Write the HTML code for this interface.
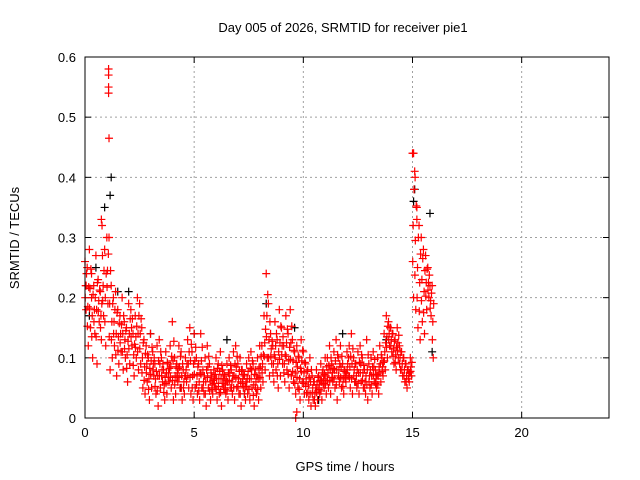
<!DOCTYPE html>
<html><head><meta charset="utf-8"><style>
html,body{margin:0;padding:0;background:#fff}
svg{display:block;font-family:"Liberation Sans",sans-serif}
</style></head><body>
<svg id="chart" width="640" height="480" viewBox="0 0 640 480">
<rect width="640" height="480" fill="#fff"/>
<text x="343" y="32" text-anchor="middle" font-size="13">Day 005 of 2026, SRMTID for receiver pie1</text>
<text x="345" y="471" text-anchor="middle" font-size="13">GPS time / hours</text>
<text transform="translate(19,238) rotate(-90)" text-anchor="middle" font-size="13">SRMTID / TECUs</text>
<g id="grid"></g>
<g id="ticks"></g>
<g id="black"></g>
<g id="red"></g>
<rect x="85" y="57" width="524" height="361" fill="none" stroke="#000" stroke-width="1"/>
</svg>
<script>
const xTicks=[0,5,10,15,20];
const yTicks=[0,0.1,0.2,0.3,0.4,0.5,0.6];
const yTickLabels=["0","0.1","0.2","0.3","0.4","0.5","0.6"];
const redT=[0.0,0.1,0.2,0.3,0.4,0.5,0.6,0.7,0.8,0.9,1.0,
1.1,1.2,1.3,1.4,1.5,1.6,1.7,1.8,1.9,2.0,2.1,2.2,2.3,2.4,2.5,
2.6,2.7,2.8,2.9,3.0,3.1,3.2,3.3,3.4,3.5,3.6,3.7,3.8,3.9,4.0,4.1,4.2,4.3,4.4,4.5,4.6,4.7,4.8,4.9,5.0,
5.1,5.2,5.3,5.4,5.5,5.6,5.7,5.8,5.9,6.0,6.1,6.2,6.3,6.4,6.5,6.6,6.7,6.8,6.9,7.0,7.1,7.2,7.3,7.4,7.5,7.6,7.7,7.8,7.9,8.0,
8.1,8.2,8.3,8.4,8.5,8.6,8.7,8.8,8.9,9.0,9.1,9.2,9.3,9.4,9.5,9.6,9.7,9.8,9.9,10.0,
10.1,10.2,10.3,10.4,10.5,10.6,10.7,10.8,10.9,11.0,
11.1,11.2,11.3,11.4,11.5,11.6,11.7,11.8,11.9,12.0,12.1,12.2,12.3,12.4,12.5,12.6,12.7,12.8,12.9,13.0,13.1,13.2,13.3,13.4,13.5,
13.6,13.7,13.8,13.9,14.0,14.1,14.2,14.3,14.4,14.5,14.6,14.7,14.8,14.9,
15.0,15.1,15.2,15.3,15.4,15.5,15.6,15.7,15.8,15.9];
const redHi=[.26,.25,.28,.24,.22,.27,.23,.21,.27,.28,.30,
.30,.22,.20,.21,.18,.17,.20,.16,.15,.19,.18,.14,.17,.20,.19,
.15,.13,.12,.10,.14,.11,.09,.12,.13,.10,.08,.11,.09,.12,.16,.10,.09,.12,.11,.08,.10,.13,.15,.11,.14,
.10,.09,.14,.08,.10,.12,.09,.07,.08,.10,.09,.11,.08,.07,.09,.10,.08,.11,.12,.09,.10,.08,.07,.09,.10,.11,.09,.08,.10,.12,
.12,.17,.24,.19,.14,.12,.16,.13,.18,.15,.12,.17,.14,.18,.13,.11,.12,.10,.13,.11,
.09,.08,.10,.07,.06,.08,.07,.09,.08,.10,
.10,.12,.09,.11,.13,.10,.12,.09,.08,.11,.12,.14,.10,.09,.11,.12,.10,.08,.13,.09,.10,.11,.08,.10,.12,
.10,.14,.17,.16,.15,.14,.13,.15,.12,.11,.10,.09,.08,.10,
.44,.41,.35,.32,.30,.28,.27,.25,.22,.22];
const redLo=[.18,.12,.15,.10,.14,.09,.16,.13,.17,.12,.19,
.08,.10,.12,.07,.09,.11,.08,.10,.06,.09,.12,.07,.10,.08,.09,
.05,.04,.06,.03,.05,.07,.04,.02,.05,.06,.03,.04,.06,.05,.03,.04,.06,.05,.03,.04,.06,.05,.04,.03,.05,
.04,.03,.05,.04,.02,.05,.03,.04,.05,.03,.04,.02,.05,.04,.03,.05,.04,.03,.05,.04,.02,.05,.03,.04,.03,.05,.02,.04,.03,.05,
.06,.08,.10,.07,.09,.06,.08,.05,.07,.09,.06,.08,.05,.07,.06,.04,.05,.03,.06,.04,
.04,.03,.02,.03,.02,.03,.04,.03,.05,.04,
.05,.04,.06,.05,.03,.06,.05,.04,.06,.07,.05,.04,.06,.05,.04,.06,.05,.04,.03,.05,.04,.06,.05,.04,.06,
.07,.08,.10,.12,.11,.09,.08,.10,.08,.07,.06,.05,.06,.07,
.20,.18,.15,.13,.16,.14,.18,.20,.17,.10];
const redExtraT=[1.08,1.08,1.08,1.08,1.1,0.75,0.78,15.05,15.12,15.2,0.05,0.3,9.65,9.7];
const redExtraV=[.58,.57,.55,.54,.465,.33,.32,.44,.40,.33,.22,.20,.0,.01];
const blackT=[0.9,1.2,1.15,15.1,15.05,15.8,0.5,3.0,5.0,6.5,8.3,9.6,11.8,13.8,15.9,2.0,4.4,7.3,10.7,12.4,0.2,1.5];
const blackV=[.35,.40,.37,.38,.36,.34,.25,.14,.14,.13,.19,.15,.14,.13,.11,.21,.05,.04,.03,.06,.17,.21];

const X0=85,X1=609,Y0=418,Y1=57;
const xs=v=>X0+(v/24)*(X1-X0);
const ys=v=>Y0-(v/0.6)*(Y0-Y1);
const NS="http://www.w3.org/2000/svg";
function mk(tag,attrs,parent){const e=document.createElementNS(NS,tag);for(const k in attrs)e.setAttribute(k,attrs[k]);parent.appendChild(e);return e;}
const grid=document.getElementById('grid'),ticks=document.getElementById('ticks');
xTicks.forEach(t=>{
  const x=xs(t);
  if(t>0){const g=mk('line',{x1:x,x2:x,y1:Y0,y2:Y1,stroke:'#a0a0a0','stroke-dasharray':'2,3','stroke-width':1},grid);
  
  }
  mk('line',{x1:x,x2:x,y1:Y0,y2:Y0-6,stroke:'#000'},ticks);
  mk('line',{x1:x,x2:x,y1:Y1,y2:Y1+6,stroke:'#000'},ticks);
  const l=mk('text',{x:x,y:Y0+19,'text-anchor':'middle','font-size':13},ticks);
  l.textContent=String(t);
  
  
});
yTicks.forEach((t,i)=>{
  const y=ys(t);
  if(t>0){const g=mk('line',{x1:X0,x2:X1,y1:y,y2:y,stroke:'#a0a0a0','stroke-dasharray':'2,3','stroke-width':1},grid);
  
  }
  mk('line',{x1:X0,x2:X0+6,y1:y,y2:y,stroke:'#000'},ticks);
  mk('line',{x1:X1,x2:X1-6,y1:y,y2:y,stroke:'#000'},ticks);
  const l=mk('text',{x:X0-9,y:y+5,'text-anchor':'end','font-size':13},ticks);
  l.textContent=yTickLabels[i];
  
  
});
function plus(g,t,v,c){
  const x=xs(t),y=ys(v);
  const p=mk('path',{d:`M${x-4},${y}H${x+4}M${x},${y-4}V${y+4}`,stroke:c,'stroke-width':1.2,fill:'none'},g);
  
  
}
const gb=document.getElementById('black'),gr=document.getElementById('red');
blackT.forEach((t,i)=>plus(gb,t,blackV[i],'#000'));
redT.forEach((t,i)=>{
  const h=redHi[i],l=redLo[i];
  plus(gr,t,h,'#f00');
  plus(gr,t+0.05,l,'#f00');
  plus(gr,t+0.03,(h+l)/2,'#f00');
  plus(gr,t+0.07,h-(h-l)*0.25,'#f00');
  plus(gr,t+0.01,l+(h-l)*0.25,'#f00');
});
redExtraT.forEach((t,i)=>plus(gr,t,redExtraV[i],'#f00'));
</script>
</body></html>
